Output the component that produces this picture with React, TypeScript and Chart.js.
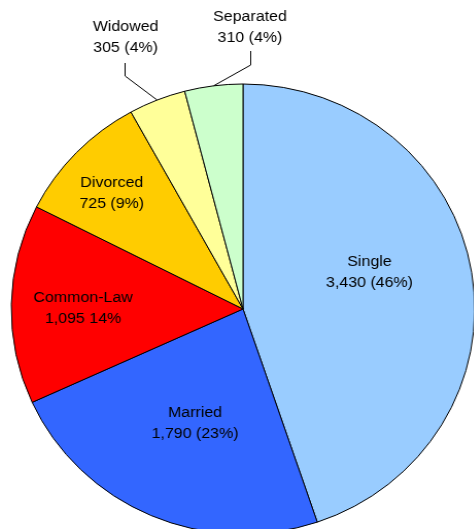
import React, { useEffect, useRef } from "react";
import { Chart, registerables } from "chart.js";

Chart.register(...registerables);

const categories = ["Single", "Married", "Common-Law", "Divorced", "Widowed", "Separated"];
const counts = [3430, 1790, 1095, 725, 305, 310];
const valueLabels = ["3,430 (46%)", "1,790 (23%)", "1,095 14%", "725 (9%)", "305 (4%)", "310 (4%)"];
const colors = ["#99CCFF", "#3366FF", "#FF0000", "#FFCC00", "#FFFF99", "#CCFFCC"];

// label placement (style/layout), relative to each slice's geometry
const insideLayout: Record<number, { da: number; f: number }> = {
  0: { da: -7.4, f: 0.57 },
  1: { da: -1.3, f: 0.55 },
  2: { da: -1.1, f: 0.69 },
  3: { da: -1.7, f: 0.766 },
};
const outsideLayout: Record<number, { tx: number; ty: number; ex: number; ey: number; vTop: number }> = {
  4: { tx: -114, ty: -272, ex: -115.5, ey: -233, vTop: -246 },
  5: { tx: 6.8, ty: -281.5, ex: 6.8, ey: -244, vTop: -258 },
};

const labelPlugin = {
  id: "sliceLabels",
  afterDatasetsDraw(chart: any) {
    const ctx = chart.ctx;
    const meta = chart.getDatasetMeta(0);
    ctx.save();
    ctx.font = '15.5px "Liberation Sans", Arial, sans-serif';
    ctx.fillStyle = "#000";
    ctx.textAlign = "center";
    ctx.textBaseline = "middle";
    meta.data.forEach((arc: any, i: number) => {
      const { x, y, startAngle, endAngle, outerRadius } = arc.getProps(
        ["x", "y", "startAngle", "endAngle", "outerRadius"],
        true
      );
      const mid = (startAngle + endAngle) / 2;
      let cx: number, cy: number;
      if (insideLayout[i]) {
        const l = insideLayout[i];
        const a = mid + (l.da * Math.PI) / 180;
        cx = x + Math.cos(a) * outerRadius * l.f;
        cy = y + Math.sin(a) * outerRadius * l.f;
      } else {
        const l = outsideLayout[i];
        cx = x + l.tx;
        cy = y + l.ty;
        const px = x + Math.cos(mid) * outerRadius;
        const py = y + Math.sin(mid) * outerRadius;
        ctx.strokeStyle = "#000";
        ctx.lineWidth = 1;
        ctx.beginPath();
        ctx.moveTo(Math.round(x + l.ex) + 0.5, y + l.vTop);
        ctx.lineTo(Math.round(x + l.ex) + 0.5, y + l.ey);
        ctx.lineTo(px, py);
        ctx.stroke();
      }
      ctx.fillText(categories[i], cx, cy - 10.5);
      ctx.fillText(valueLabels[i], cx, cy + 10.5);
    });
    ctx.restore();
  },
};

export default function App() {
  const ref = useRef<HTMLCanvasElement | null>(null);
  useEffect(() => {
    if (!ref.current) return;
    const chart = new Chart(ref.current, {
      type: "pie",
      data: {
        labels: categories,
        datasets: [
          {
            data: counts,
            backgroundColor: colors,
            borderColor: "#000",
            borderWidth: 1,
          },
        ],
      },
      options: {
        responsive: false,
        animation: false,
        radius: 225,
        layout: { padding: { left: 12, right: 0, top: 58, bottom: 0 } },
        plugins: {
          legend: { display: false },
          tooltip: { enabled: false },
        },
      } as any,
      plugins: [labelPlugin],
    });
    return () => chart.destroy();
  }, []);
  return (
    <div style={{ position: "fixed", left: 0, top: 0, width: 474, height: 529, overflow: "hidden", background: "#fff" }}>
      <canvas
        ref={ref}
        width={474}
        height={560}
        style={{ width: 474, height: 560, transform: "scaleX(1.03)", transformOrigin: "243px 0" }}
      />
    </div>
  );
}
